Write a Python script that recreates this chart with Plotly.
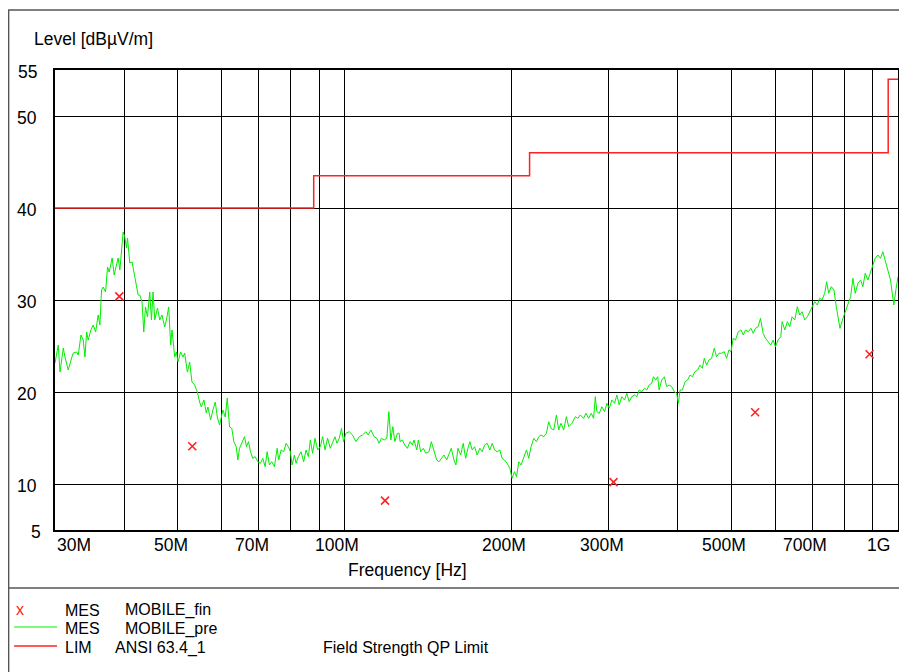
import math
import plotly.graph_objects as go

# ---------------- data ----------------
x_grid_mhz = [30, 40, 50, 60, 70, 80, 90, 100, 200, 300, 400, 500, 600, 700, 800, 900, 1000]
x_label_mhz = [30, 50, 70, 100, 200, 300, 500, 700, 1000]
x_label_text = ["30M", "50M", "70M", "100M", "200M", "300M", "500M", "700M", "1G"]
y_grid_vals = [10, 20, 30, 40, 50]
y_label_vals = [5, 10, 20, 30, 40, 50, 55]

limit_freq_mhz = [30, 88, 216, 960, 1000]
limit_level = [40, 43.5, 46, 54, 54]

fin_freq_mhz = [39.2, 53.1, 118.4, 306.3, 552, 888.5]
fin_level = [30.4, 14.1, 8.2, 10.2, 17.8, 24.1]

pre_freq_a = [30.00, 30.41, 30.63, 31.05, 31.27, 31.70, 32.15, 32.37, 32.83, 33.05,
              33.42, 33.74, 33.98, 34.22, 34.44, 34.83, 35.17, 35.52, 35.90, 36.16,
              36.41, 36.66, 37.02, 37.33, 37.58, 37.85, 38.05, 38.37, 38.75, 39.01,
              39.29, 39.56, 39.83, 40.11, 40.39, 40.56, 40.95, 41.34, 41.69, 42.11,
              42.39, 42.69, 43.09, 43.40, 43.71, 44.07, 44.49, 44.81, 45.11, 45.43,
              45.94, 46.38, 46.82, 47.35, 47.69, 48.14, 48.54, 48.81, 49.36, 49.71,
              50.04, 50.60, 51.09, 51.45, 52.03, 52.53, 53.03, 53.63, 54.23, 54.75,
              55.14, 55.74, 56.29, 56.67, 57.31, 57.86, 58.44, 58.92, 59.49, 60.31,
              60.91, 61.42, 62.01]
pre_level_a = [23.15, 25.11, 22.17, 24.78, 23.80, 22.39, 23.70, 24.24, 24.35, 24.02,
               26.20, 25.65, 23.80, 26.52, 25.65, 26.74, 27.28, 26.52, 28.37, 27.28,
               31.09, 31.41, 30.87, 33.59, 33.04, 33.80, 34.57, 32.72, 34.02, 34.57,
               33.26, 35.76, 37.39, 36.85, 35.65, 36.74, 34.02, 34.13, 32.93, 31.85,
               30.54, 30.54, 29.78, 26.52, 29.24, 28.15, 30.87, 27.83, 30.87, 27.83,
               29.13, 27.83, 28.37, 27.07, 27.83, 29.24, 25.11, 26.74, 23.80, 24.35,
               23.26, 24.35, 23.80, 24.24, 22.17, 23.26, 21.09, 20.76, 20.00, 18.91,
               18.37, 19.13, 17.72, 18.37, 16.96, 18.04, 18.91, 17.28, 16.41, 18.04,
               17.28, 19.35, 16.20]

pre_freq_b = [62.60, 63.12, 63.75, 64.18, 64.63, 65.25, 65.99, 66.54, 67.09, 67.65,
              68.30, 68.98, 69.73, 70.52, 71.19, 71.90, 72.50, 73.20, 73.90, 74.73,
              75.58, 76.08, 76.84, 77.67, 78.45, 79.20, 79.86, 80.43, 81.20, 81.78,
              82.56, 83.49, 84.40, 85.24, 86.06, 86.77, 87.61, 88.48, 89.44, 90.45,
              91.32, 92.23, 93.23, 94.28, 95.18, 96.14, 96.94, 97.87, 98.80, 99.63,
              100.62, 102.01, 103.42, 104.89, 106.33, 107.80, 109.33, 110.38, 111.62, 113.16,
              114.44, 115.53, 116.64, 117.95, 119.28, 120.28, 121.28, 122.29, 123.31, 124.65,
              125.53]
pre_level_b = [16.05, 14.60, 14.05, 12.61, 13.88, 14.42, 15.14, 14.05, 14.60, 13.51,
               12.79, 12.97, 12.42, 12.25, 12.79, 11.88, 13.51, 12.07, 12.42, 11.88,
               13.88, 12.61, 13.70, 13.51, 14.42, 14.05, 13.51, 12.07, 13.15, 12.25,
               12.97, 13.51, 12.42, 13.70, 12.97, 14.78, 13.34, 14.97, 13.70, 14.05,
               15.14, 13.70, 14.97, 13.88, 14.42, 15.14, 14.42, 14.97, 16.05, 14.60,
               15.51, 15.68, 15.33, 14.60, 15.14, 15.33, 15.68, 15.33, 15.87, 15.14,
               14.97, 14.42, 14.97, 14.78, 14.97, 17.86, 14.78, 16.23, 14.60, 15.51,
               15.51]

pre_freq_c = [126.05, 127.26, 128.53, 129.93, 131.39, 132.65, 133.59, 135.09, 135.99, 137.35,
              138.84, 140.23, 142.17, 143.53, 145.15, 146.78, 148.19, 149.61, 151.29, 153.00,
              154.46, 155.95, 157.70, 159.02, 160.34, 162.15, 163.91, 165.55, 167.13, 168.53,
              170.14, 171.85, 173.71, 175.67, 177.35, 179.12, 181.07, 183.11, 184.86, 186.71,
              188.74, 190.86, 192.69, 194.62, 196.73, 198.95, 200.86, 202.87, 204.56, 206.52,
              208.50, 210.85, 213.22, 215.27, 217.33, 219.78, 222.25, 224.38, 226.54, 229.10,
              231.68, 233.90, 236.14, 238.80, 241.49, 243.80, 246.14, 248.91, 251.72, 254.13]
pre_level_c = [14.60, 14.78, 14.24, 13.88, 14.60, 14.24, 14.78, 13.70, 14.78, 13.51,
               13.88, 13.34, 13.51, 14.60, 13.70, 12.61, 12.42, 12.79, 13.15, 12.61,
               13.34, 13.88, 12.61, 12.07, 13.88, 13.15, 14.42, 12.79, 13.88, 14.60,
               13.70, 14.05, 13.15, 13.88, 13.51, 14.24, 14.42, 13.70, 14.42, 13.70,
               13.51, 13.70, 12.79, 12.61, 12.25, 11.71, 10.62, 11.34, 10.79, 12.42,
               12.07, 12.79, 13.70, 12.79, 14.05, 14.97, 14.60, 15.14, 15.33, 15.14,
               15.51, 16.77, 16.05, 15.87, 17.50, 15.87, 16.60, 15.87, 17.32, 16.23]

pre_freq_d = [257.63, 261.29, 264.12, 266.77, 270.44, 273.03, 276.11, 279.22, 281.90, 283.90,
              285.79, 288.65, 291.77, 295.06, 297.89, 300.87, 304.13, 307.56, 310.51, 313.62,
              317.02, 320.59, 323.66, 326.90, 330.45, 334.17, 337.38, 340.75, 344.45, 348.33,
              351.67, 355.19, 359.04, 361.58, 365.05, 368.09, 370.23, 374.25, 378.47, 382.10,
              385.92, 390.11, 394.50, 398.28, 401.10, 403.94, 407.81, 412.40, 416.88, 421.05,
              425.08, 429.87, 434.54, 438.88, 443.09, 446.78, 451.06, 455.57, 460.51, 465.70,
              470.16, 474.87, 480.02, 485.43, 490.08, 494.99, 499.11, 503.90]
pre_level_d = [16.60, 17.32, 17.14, 17.50, 17.14, 17.68, 17.14, 17.68, 17.14, 19.49,
               17.86, 17.68, 18.40, 17.86, 18.77, 18.23, 19.13, 18.77, 19.67, 18.59,
               19.49, 19.13, 19.86, 18.95, 19.49, 19.67, 19.49, 20.22, 20.03, 20.40,
               20.22, 20.76, 20.95, 21.66, 21.30, 21.66, 20.22, 21.30, 21.66, 20.58,
               20.76, 20.58, 20.03, 19.86, 18.77, 20.22, 20.22, 21.12, 21.30, 21.85,
               21.66, 22.21, 22.39, 22.93, 22.58, 23.66, 22.93, 23.48, 23.66, 24.75,
               23.84, 24.21, 24.21, 24.38, 23.66, 24.57, 24.38, 25.84]

pre_freq_e = [508.73, 514.46, 520.25, 525.24, 530.28, 536.25, 542.29, 547.51, 552.75, 558.98,
              564.34, 570.69, 576.17, 582.66, 589.22, 594.87, 600.57, 607.34, 614.18, 617.50,
              624.46, 631.23, 637.55, 643.64, 650.90, 657.96, 664.55, 670.92, 678.47, 685.83,
              692.69, 699.34, 707.21, 714.88, 722.04, 728.95, 737.17, 743.31, 749.52, 757.65,
              766.18, 773.53, 781.27, 785.50, 795.34, 802.96, 812.00, 821.15, 829.03, 836.97,
              846.41, 855.94, 864.14, 872.42, 882.26, 892.20, 900.75, 909.38, 919.61, 929.97,
              938.89, 947.89, 958.57, 969.36, 974.61, 982.72, 992.15, 997.0, 1000.0]
pre_level_e = [25.65, 26.55, 26.74, 26.20, 26.74, 26.55, 26.92, 26.38, 26.92, 27.10,
               28.01, 26.38, 25.84, 25.47, 25.11, 25.65, 24.92, 25.65, 26.01, 27.64,
               26.74, 27.64, 27.10, 28.18, 27.83, 29.27, 28.37, 28.73, 27.83, 28.18,
               28.73, 29.27, 29.82, 29.46, 30.18, 30.00, 30.73, 31.99, 30.73, 31.45,
               31.09, 29.27, 27.83, 26.92, 28.01, 28.73, 29.46, 30.36, 32.36, 30.73,
               31.82, 32.17, 31.45, 32.90, 32.17, 33.08, 33.80, 34.53, 34.89, 34.53,
               35.25, 34.35, 33.26, 32.17, 31.09, 29.46, 31.27, 32.17, 32.53]

pre_freq_mhz = pre_freq_a + pre_freq_b + pre_freq_c + pre_freq_d + pre_freq_e
pre_level = pre_level_a + pre_level_b + pre_level_c + pre_level_d + pre_level_e

# ---------------- layout helpers ----------------
# The page body has an 8px default margin, so the figure is drawn 8px in from the
# window edge; screen coordinates below are converted accordingly.
OFF = 8
W, H = 907 - OFF, 672 - OFF
ML, MR, MT, MB = 55 - OFF, 7, 70 - OFF, 142
PW = W - ML - MR
PH = H - MT - MB


def px(X):
    return (X - OFF - ML) / PW


def py(Y):
    return (H - MB - (Y - OFF)) / PH


FONT = "Arial, Liberation Sans, sans-serif"
FS = 17.5
FS_LEG = 16

fig = go.Figure()

fig.add_trace(go.Scatter(x=pre_freq_mhz, y=pre_level, mode="lines",
                         line=dict(color="#00ee00", width=1), hoverinfo="skip"))
fig.add_trace(go.Scatter(x=limit_freq_mhz, y=limit_level, mode="lines",
                         line=dict(color="#ff2222", width=1.5, shape="hv"), hoverinfo="skip"))
fig.add_trace(go.Scatter(x=fin_freq_mhz, y=fin_level, mode="markers",
                         marker=dict(symbol="x-thin", size=8, line=dict(color="#ff2222", width=1.6)),
                         hoverinfo="skip"))

annotations = []
for f, t in zip(x_label_mhz, x_label_text):
    if f == 30:
        xa, xs = "left", 0
    elif f == 1000:
        xa, xs = "right", -6
    else:
        xa, xs = "center", -7
    annotations.append(dict(x=math.log10(f), xref="x", y=py(545), yref="paper",
                            text=t, showarrow=False, xanchor=xa, yanchor="middle", xshift=xs,
                            font=dict(family=FONT, size=FS, color="black")))
for v in y_label_vals:
    annotations.append(dict(x=px(43 if v == 5 else 39), xref="paper", y=v, yref="y",
                            text=str(v), showarrow=False, xanchor="right", yanchor="middle",
                            yshift=-2, font=dict(family=FONT, size=FS, color="black")))

texts = [
    ("Level [dBµV/m]", 32, 39, "black", FS),
    ("Frequency [Hz]", 347, 570, "black", FS),
    ("x", 14, 609, "#ff2222", FS_LEG),
    ("MES", 63, 610, "black", FS_LEG),
    ("MOBILE_fin", 123, 610, "black", FS_LEG),
    ("MES", 63, 628.5, "black", FS_LEG),
    ("MOBILE_pre", 123, 628.5, "black", FS_LEG),
    ("LIM", 63, 647.5, "black", FS_LEG),
    ("ANSI 63.4_1", 113, 647.5, "black", FS_LEG),
    ("Field Strength QP Limit", 322, 647.5, "black", FS_LEG),
]
for t, X, Y, c, s in texts:
    annotations.append(dict(x=px(X), xref="paper", y=py(Y), yref="paper", text=t,
                            showarrow=False, xanchor="left", yanchor="middle",
                            font=dict(family=FONT, size=s, color=c)))

frame = "#555555"
shapes = [
    dict(type="line", xref="paper", yref="paper", x0=px(8.5), x1=px(8.5), y0=py(10), y1=py(672),
         line=dict(color=frame, width=1.5)),
    dict(type="line", xref="paper", yref="paper", x0=px(8), x1=px(907), y0=py(10), y1=py(10),
         line=dict(color=frame, width=1.5)),
    dict(type="line", xref="paper", yref="paper", x0=px(8), x1=px(907), y0=py(588), y1=py(588),
         line=dict(color=frame, width=1.5)),
    dict(type="line", xref="paper", yref="paper", x0=px(14), x1=px(57), y0=py(627), y1=py(627),
         line=dict(color="#00ee00", width=1)),
    dict(type="line", xref="paper", yref="paper", x0=px(14), x1=px(57), y0=py(646), y1=py(646),
         line=dict(color="#ff2222", width=1.5)),
]

fig.update_layout(
    width=W, height=H,
    margin=dict(l=ML, r=MR, t=MT, b=MB, pad=0),
    paper_bgcolor="white", plot_bgcolor="white",
    showlegend=False,
    annotations=annotations,
    shapes=shapes,
    xaxis=dict(type="log", range=[math.log10(30), math.log10(1000)],
               tickvals=x_grid_mhz, showticklabels=False, ticks="",
               showgrid=True, gridcolor="black", gridwidth=1,
               showline=True, linecolor="black", linewidth=1.5, mirror=True,
               zeroline=False, fixedrange=True),
    yaxis=dict(range=[5, 55], tickvals=y_grid_vals, showticklabels=False, ticks="",
               showgrid=True, gridcolor="black", gridwidth=1,
               showline=True, linecolor="black", linewidth=1.5, mirror=True,
               zeroline=False, fixedrange=True),
)

fig.write_html("out.html", config={"displayModeBar": False})
